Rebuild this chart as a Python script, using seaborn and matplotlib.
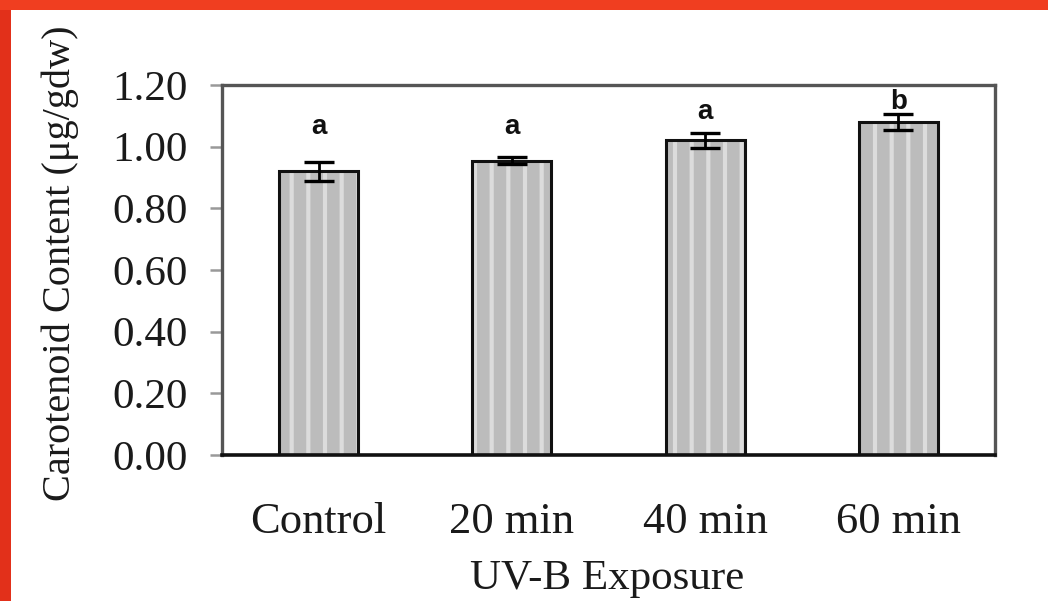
import numpy as np
import pandas as pd
import matplotlib
matplotlib.use("Agg")
import matplotlib.pyplot as plt
from matplotlib.patches import Rectangle
import seaborn as sns

# data
groups = ["Control", "20 min", "40 min", "60 min"]
carotenoid = [0.92, 0.955, 1.02, 1.08]
sd = [0.031, 0.012, 0.025, 0.025]
letters = ["a", "a", "a", "b"]
letter_y = [1.064, 1.064, 1.113, 1.145]
yticks = [0.0, 0.2, 0.4, 0.6, 0.8, 1.0, 1.2]

df = pd.DataFrame({"group": groups, "value": carotenoid})

sns.set_style("white")
plt.rcParams["font.family"] = ["Liberation Serif", "DejaVu Serif"]
plt.rcParams["hatch.linewidth"] = 3.0

fig = plt.figure(figsize=(10.48, 6.01), dpi=100)
fig.patch.set_facecolor("white")
ax = fig.add_axes([222 / 1048, 1 - 455 / 601, 773 / 1048, 370 / 601])

sns.barplot(data=df, x="group", y="value", order=groups, color="#bcbcbc",
            width=0.41, edgecolor="none", linewidth=0, saturation=1, ax=ax, zorder=2)

for p in list(ax.patches):
    x0, y0 = p.get_xy()
    w, h = p.get_width(), p.get_height()
    ax.add_patch(Rectangle((x0, y0), w, h, fill=False, hatch="|",
                           edgecolor="#dcdcdc", linewidth=0, zorder=2.1))
    ax.add_patch(Rectangle((x0, y0), w, h, fill=False,
                           edgecolor="#111111", linewidth=2.2, zorder=2.2))

xpos = np.arange(len(groups))
ax.errorbar(xpos, carotenoid, yerr=sd, fmt="none", ecolor="black",
            elinewidth=2, capsize=11, capthick=2.4, zorder=3)

for i, (lab, ly) in enumerate(zip(letters, letter_y)):
    ax.text(xpos[i], ly, lab, ha="center", va="center", fontsize=20,
            fontweight="bold", family=["Liberation Sans", "DejaVu Sans"], color="#111111")

ax.set_ylim(0, 1.2)
ax.set_xlim(-0.5, len(groups) - 0.5)
ax.set_yticks(yticks)
ax.set_yticklabels([f"{v:.2f}" for v in yticks], fontsize=31, color="#1a1a1a")
ax.set_xticks(xpos)
ax.set_xticklabels(groups, fontsize=32, color="#1a1a1a")
ax.tick_params(axis="x", which="major", length=0, pad=34)
ax.set_xticks(np.arange(-0.5, len(groups)), minor=True)
ax.tick_params(axis="x", which="minor", length=12, width=1.8, color="#888888", direction="out")
ax.tick_params(axis="y", length=9, width=1.8, color="#999999", direction="out", pad=16, left=True)
ax.set_xlabel("")
ax.set_ylabel("")

for side in ["top", "right", "left"]:
    ax.spines[side].set_visible(True)
    ax.spines[side].set_color("#555555")
    ax.spines[side].set_linewidth(2.4)
ax.spines["bottom"].set_color("#111111")
ax.spines["bottom"].set_linewidth(2.6)

fig.text(60 / 1048, 1 - 263 / 601, "Carotenoid Content (\u03bcg/gdw)", rotation=90,
         ha="center", va="center", fontsize=29, color="#1a1a1a")
fig.text(607 / 1048, 1 - 589 / 601, "UV-B Exposure", ha="center", va="baseline",
         fontsize=31, color="#1a1a1a")

# red frame on the top and left edges
fig.patches.append(Rectangle((0, 0), 11 / 1048, 1, transform=fig.transFigure,
                             facecolor="#e2301a", edgecolor="none", zorder=10))
fig.patches.append(Rectangle((0, 1 - 10 / 601), 1, 10 / 601, transform=fig.transFigure,
                             facecolor="#f03e20", edgecolor="none", zorder=10))

fig.savefig("out.png", dpi=100)
